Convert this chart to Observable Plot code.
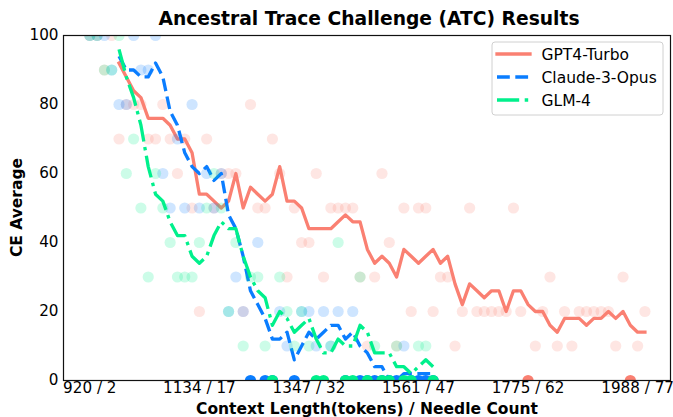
<!DOCTYPE html>
<html>
<head>
<meta charset="utf-8">
<script src="https://cdn.jsdelivr.net/npm/d3@7"></script>
<script src="https://cdn.jsdelivr.net/npm/@observablehq/plot@0.6"></script>
<style>
  html, body { margin: 0; padding: 0; background: #fff; }
  #wrap { position: relative; width: 673px; height: 417px; overflow: hidden; font-family: "DejaVu Sans", sans-serif; }
  #wrap > svg { position: absolute; left: 0; top: 0; }
  #overlay { pointer-events: none; }
</style>
</head>
<body>
<div id="wrap"></div>
<script>
// ---------- data ----------
const models = ["GPT4-Turbo", "Claude-3-Opus", "GLM-4"];
const colors = ["#FA8072", "#0A7DFF", "#00F08C"];

const tickNeedles = [2, 17, 32, 47, 62, 77];
const tickTokens  = [920, 1134, 1347, 1561, 1775, 1988];
const yTicks = [0, 20, 40, 60, 80, 100];

// needle counts of the individual runs
const needlesGPT = [2,3,4,5,6,7,8,9,10,11,12,13,14,15,16,17,18,19,20,21,22,23,24,25,26,27,28,29,30,31,32,33,34,35,36,37,38,39,40,41,42,43,44,45,46,47,48,49,50,51,52,53,54,55,56,57,58,59,60,61,62,63,64,65,66,67,68,69,70,71,72,73,74,75,76,77,78];
const needlesShort = [2,3,4,5,6,7,8,9,10,11,12,13,14,15,16,17,18,19,20,21,22,23,24,25,26,27,28,29,30,31,32,33,34,35,36,37,38,39,40,41,42,43,44,45,46,47,48,49];

// CE score of each run (scatter points)
const gptScores = [100,100,90,100,70,80,80,80,70,70,80,70,60,70,50,20,70,50,60,60,60,20,80,50,50,70,60,30,50,40,40,60,30,50,50,50,50,30,10,30,60,40,10,50,20,50,50,20,30,30,10,20,50,20,20,20,20,20,50,20,0,10,20,30,10,20,10,20,20,20,20,20,10,30,0,10,20];
const claudeScores = [100,100,100,90,80,80,100,90,90,100,60,50,70,50,80,50,60,50,60,20,30,20,0,40,0,0,20,10,0,20,20,10,20,10,20,0,20,0,0,0,0,0,0,10,0,0,0,0];
const glmScores = [100,100,90,90,100,60,70,50,30,60,50,40,30,30,30,40,50,60,50,20,40,10,30,30,10,0,30,20,10,20,10,0,0,10,40,0,0,30,0,10,0,0,10,0,0,10,10,0];

// CE average curves (lines)
const avgNeedlesGPT = [6,7,8,9,10,11,12,13,14,15,16,17,18,19,20,21,22,23,24,25,26,27,28,29,30,31,32,33,34,35,36,37,38,39,40,41,42,43,44,45,46,47,48,49,50,51,52,53,54,55,56,57,58,59,60,61,62,63,64,65,66,67,68,69,70,71,72,73,74,75,76,77,78];
const avgNeedlesShort = [6,7,8,9,10,11,12,13,14,15,16,17,18,19,20,21,22,23,24,25,26,27,28,29,30,31,32,33,34,35,36,37,38,39,40,41,42,43,44,45,46,47,48,49];
const gptAvg = [92,88,84,82,76,76,76,74,70,70,66,54,54,52,50,52,60,50,56,54,52,54,62,52,52,50,44,44,44,44,46,48,46,46,38,34,36,34,30,38,36,34,36,38,34,36,28,22,28,26,24,26,26,20,26,26,22,20,20,16,14,18,18,18,16,18,18,20,18,20,16,14,14];
const claudeAvg = [94,90,90,88,88,92,88,78,74,66,62,60,62,58,60,48,44,36,26,22,18,12,12,14,6,10,14,12,14,16,16,12,14,10,8,4,4,0,0,2,2,2,2,2];
const glmAvg = [96,88,82,74,62,54,52,46,42,42,36,34,36,42,46,44,44,36,30,26,24,16,20,18,14,16,18,12,8,8,12,10,10,16,14,8,8,8,4,4,2,4,6,4];

// ---------- build tables ----------
const pts = (ns, vs) => ns.map((n, i) => ({n, v: vs[i]}));
const series = [
  {name: models[0], color: colors[0], points: pts(needlesGPT, gptScores), line: pts(avgNeedlesGPT, gptAvg), dash: null},
  {name: models[1], color: colors[1], points: pts(needlesShort, claudeScores), line: pts(avgNeedlesShort, claudeAvg), dash: "12.8,5.5"},
  {name: models[2], color: colors[2], points: pts(needlesShort, glmScores), line: pts(avgNeedlesShort, glmAvg), dash: "22.2,5.5,3.5,5.5"}
];

const tokenOf = n => tickTokens[tickNeedles.indexOf(n)];

const marks = [];
for (const s of series) {
  marks.push(Plot.dot(s.points, {
    x: "n", y: "v", r: 5.6, fill: s.color, stroke: "none",
    fillOpacity: d => d.v === 0 ? 1 : 0.2, clip: true
  }));
  marks.push(Plot.line(s.line, {
    x: "n", y: "v", stroke: s.color, strokeWidth: 3.3,
    strokeDasharray: s.dash || undefined, strokeLinecap: s.dash ? "butt" : "square",
    strokeLinejoin: "round", clip: true
  }));
}

const chart = Plot.plot({
  width: 673, height: 417,
  marginLeft: 63, marginRight: 3, marginTop: 35, marginBottom: 37,
  style: {fontFamily: "DejaVu Sans", fontSize: "15.2px", color: "#000", background: "transparent"},
  x: {domain: [-1.6, 81.5]},
  y: {domain: [0, 100]},
  marks: [
    Plot.axisX({ticks: tickNeedles, tickFormat: d => `${tokenOf(d)} / ${d}`, tickSize: 0, tickPadding: 2, label: null, fontSize: 15.2}),
    Plot.axisY({ticks: yTicks, tickSize: 0, tickPadding: 5, label: null, fontSize: 15.2}),
    ...marks,
    Plot.frame({stroke: "#111", strokeWidth: 1.2})
  ]
});

const wrap = document.getElementById("wrap");
wrap.appendChild(chart);

// ---------- overlay: title, axis labels, legend ----------
const ns = "http://www.w3.org/2000/svg";
const ov = document.createElementNS(ns, "svg");
ov.setAttribute("id", "overlay");
ov.setAttribute("width", 673);
ov.setAttribute("height", 417);
ov.setAttribute("font-family", "DejaVu Sans");
wrap.appendChild(ov);

function el(tag, attrs, text) {
  const e = document.createElementNS(ns, tag);
  for (const k in attrs) e.setAttribute(k, attrs[k]);
  if (text != null) e.textContent = text;
  ov.appendChild(e);
  return e;
}

el("text", {x: 369, y: 24.5, "text-anchor": "middle", "font-size": 18.7, "font-weight": "bold", fill: "#000"}, "Ancestral Trace Challenge (ATC) Results");
el("text", {x: 367, y: 413.5, "text-anchor": "middle", "font-size": 15.5, "font-weight": "bold", fill: "#000"}, "Context Length(tokens) / Needle Count");
el("text", {transform: "translate(22,207.5) rotate(-90)", "text-anchor": "middle", "font-size": 15.5, "font-weight": "bold", fill: "#000"}, "CE Average");

// legend
el("rect", {x: 492, y: 42, width: 171, height: 73, rx: 3, ry: 3, fill: "#fff", "fill-opacity": 0.8, stroke: "#d0d0d0", "stroke-width": 1});
series.forEach((s, i) => {
  const y = 54 + i * 23;
  const attrs = {x1: 497, x2: 530, y1: y, y2: y, stroke: s.color, "stroke-width": 3.3, "stroke-linecap": s.dash ? "butt" : "square"};
  if (s.dash) attrs["stroke-dasharray"] = s.dash;
  el("line", attrs);
  el("text", {x: 541.5, y: y + 5.5, "font-size": 15.5, fill: "#000"}, s.name);
});
</script>
</body>
</html>
